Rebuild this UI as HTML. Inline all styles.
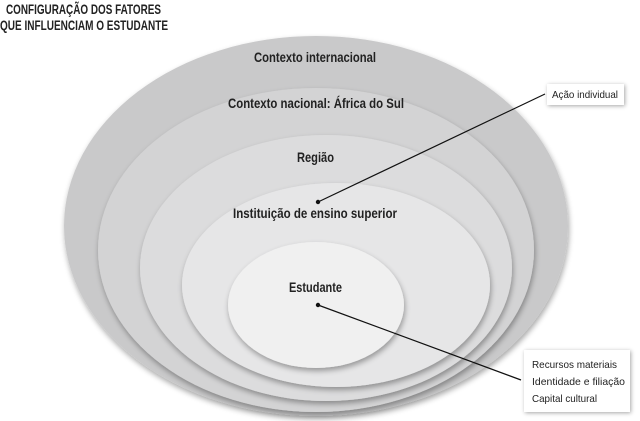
<!DOCTYPE html>
<html><head><meta charset="utf-8"><style>
body{margin:0;width:640px;height:421px;background:#fff;overflow:hidden;position:relative;font-family:"Liberation Sans",sans-serif;}
svg{position:absolute;left:0;top:0}
.t{font-family:"Liberation Sans",sans-serif;font-weight:bold;font-size:14px;fill:#222}
.s{font-family:"Liberation Sans",sans-serif;font-size:10.5px;fill:#222}
.box{position:absolute;background:#fff;box-shadow:1px 1px 4px rgba(0,0,0,0.35)}
</style></head><body>
<svg width="640" height="421">
<defs><filter id="sh" x="-10%" y="-10%" width="120%" height="120%"><feGaussianBlur in="SourceAlpha" stdDeviation="3"/><feOffset dx="1" dy="3"/><feComponentTransfer><feFuncA type="linear" slope="0.35"/></feComponentTransfer><feMerge><feMergeNode/><feMergeNode in="SourceGraphic"/></feMerge></filter></defs>
<text class="t" x="6" y="14" font-size="15" textLength="155" lengthAdjust="spacingAndGlyphs">CONFIGURAÇÃO DOS FATORES</text>
<text class="t" x="0" y="30" font-size="15" textLength="168" lengthAdjust="spacingAndGlyphs">QUE INFLUENCIAM O ESTUDANTE</text>
<ellipse cx="316" cy="226" rx="252" ry="190" fill="#c9c9ca" filter="url(#sh)"/>
<ellipse cx="316" cy="250" rx="218" ry="162" fill="#d3d3d4" filter="url(#sh)"/>
<ellipse cx="326" cy="268" rx="186" ry="133" fill="#dcdcdd" filter="url(#sh)"/>
<ellipse cx="336" cy="285" rx="154" ry="102" fill="#e6e6e7" filter="url(#sh)"/>
<ellipse cx="316" cy="305" rx="88" ry="63" fill="#f0f0f0" filter="url(#sh)"/>
<text class="t" x="254" y="62" textLength="122" lengthAdjust="spacingAndGlyphs">Contexto internacional</text>
<text class="t" x="228" y="108" textLength="176" lengthAdjust="spacingAndGlyphs">Contexto nacional: África do Sul</text>
<text class="t" x="297" y="162" textLength="37" lengthAdjust="spacingAndGlyphs">Região</text>
<text class="t" x="233" y="218" textLength="164" lengthAdjust="spacingAndGlyphs">Instituição de ensino superior</text>
<text class="t" x="289" y="292" textLength="53" lengthAdjust="spacingAndGlyphs">Estudante</text>
<line x1="318" y1="202" x2="545" y2="94" stroke="#111" stroke-width="1.2"/>
<circle cx="318" cy="202" r="2.2" fill="#111"/>
<line x1="318" y1="305" x2="521" y2="380" stroke="#111" stroke-width="1.2"/>
<circle cx="318" cy="305" r="2.2" fill="#111"/>
</svg>
<div class="box" style="left:547px;top:84px;width:77px;height:21px"></div>
<div class="box" style="left:524px;top:350px;width:106px;height:62px"></div>
<svg width="640" height="421">
<text class="s" x="552" y="98" textLength="66" lengthAdjust="spacingAndGlyphs">Ação individual</text>
<text class="s" x="532" y="368" textLength="85" lengthAdjust="spacingAndGlyphs">Recursos materiais</text>
<text class="s" x="532" y="385" textLength="93" lengthAdjust="spacingAndGlyphs">Identidade e filiação</text>
<text class="s" x="532" y="402" textLength="65" lengthAdjust="spacingAndGlyphs">Capital cultural</text>
</svg>
</body></html>
